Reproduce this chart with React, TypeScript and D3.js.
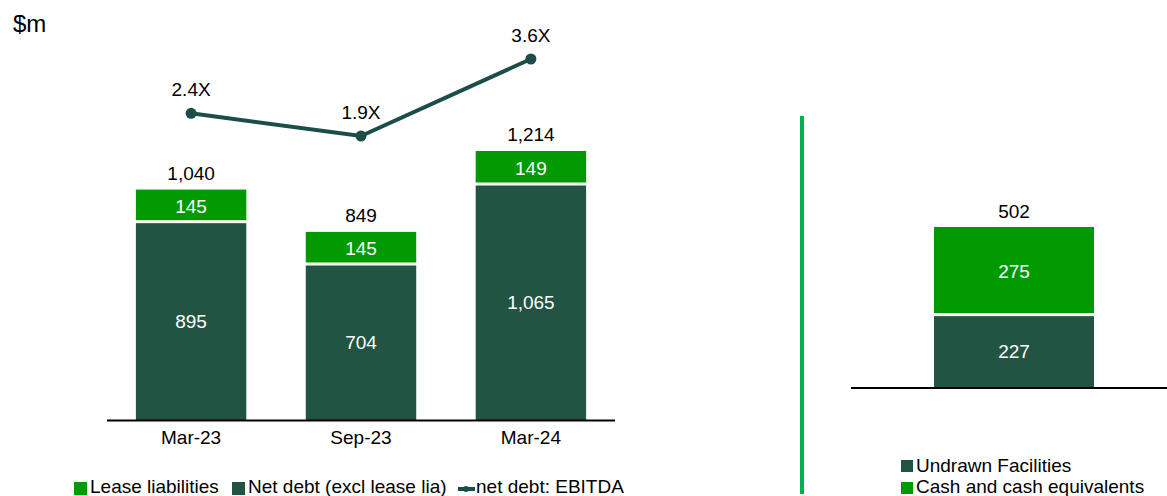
import React from "react";
import * as d3 from "d3";

const periods = ["Mar-23", "Sep-23", "Mar-24"];
const netDebt = [895, 704, 1065];
const leaseLiab = [145, 145, 149];
const totals = [1040, 849, 1214];
const ratio = [2.4, 1.9, 3.6];

const liqCategory = ["Liquidity"];
const undrawn = [227];
const cash = [275];
const liqTotal = [502];

const DARK = "#215442";
const GREEN = "#009900";
const LINE = "#1b4d49";
const FONT = "'Liberation Sans', Arial, sans-serif";
const FS = 19;

const App = () => {
  const x = d3.scaleBand().domain(periods).range([107, 615]).paddingInner(0.35).paddingOuter(0.17);
  const y = d3.scaleLinear().domain([0, 1214]).range([420, 151]);
  const yr = d3.scaleLinear().domain([1.9, 3.6]).range([136, 59]);

  const x2 = d3.scaleBand().domain(liqCategory).range([934, 1094]).padding(0);
  const y2 = d3.scaleLinear().domain([0, 502]).range([387, 227]);

  const line = d3
    .line<number>()
    .x((d, i) => (x(periods[i]) as number) + x.bandwidth() / 2)
    .y(d => yr(d));

  return (
    <svg width={1167} height={496} style={{ position: "absolute", left: 0, top: 0, fontFamily: FONT }}>
      <text x={13} y={32} fontSize={24} fill="#000">$m</text>

      {periods.map((p, i) => {
        const bx = x(p) as number;
        const w = x.bandwidth();
        const cx = bx + w / 2;
        const yTop = y(netDebt[i] + leaseLiab[i]);
        const yMid = y(netDebt[i]);
        return (
          <g key={p}>
            <rect x={bx} y={yMid + 1.5} width={w} height={y(0) - yMid - 1.5} fill={DARK} />
            <rect x={bx} y={yTop} width={w} height={yMid - yTop - 1.5} fill={GREEN} />
            <text x={cx} y={(yMid + y(0)) / 2 + 7} textAnchor="middle" fontSize={FS} fill="#fff">
              {d3.format(",")(netDebt[i])}
            </text>
            <text x={cx} y={(yTop + yMid) / 2 + 7} textAnchor="middle" fontSize={FS} fill="#fff">
              {leaseLiab[i]}
            </text>
            <text x={cx} y={yTop - 10} textAnchor="middle" fontSize={FS} fill="#000">
              {d3.format(",")(totals[i])}
            </text>
            <text x={cx} y={444} textAnchor="middle" fontSize={FS} fill="#000">{p}</text>
          </g>
        );
      })}
      <line x1={107} x2={615} y1={420.5} y2={420.5} stroke="#000" strokeWidth={2} />

      <path d={line(ratio) || ""} fill="none" stroke={LINE} strokeWidth={4} />
      {ratio.map((r, i) => {
        const cx = (x(periods[i]) as number) + x.bandwidth() / 2;
        return (
          <g key={i}>
            <circle cx={cx} cy={yr(r)} r={5.5} fill={LINE} />
            <text x={cx} y={yr(r) - 17} textAnchor="middle" fontSize={FS} fill="#000">
              {r.toFixed(1)}X
            </text>
          </g>
        );
      })}

      <g fontSize={FS} fill="#000">
        <rect x={74} y={482} width={13} height={13} fill={GREEN} />
        <text x={90} y={493}>Lease liabilities</text>
        <rect x={232} y={482} width={13} height={13} fill={DARK} />
        <text x={248} y={493}>Net debt (excl lease lia)</text>
        <line x1={458} x2={475} y1={489} y2={489} stroke={LINE} strokeWidth={4} />
        <circle cx={466} cy={489} r={3} fill={LINE} />
        <text x={476} y={493}>net debt: EBITDA</text>
      </g>

      <line x1={802} x2={802} y1={116} y2={494} stroke="#00b050" strokeWidth={4} />

      {liqCategory.map((c, i) => {
        const bx = x2(c) as number;
        const w = x2.bandwidth();
        const cx = bx + w / 2;
        const yMid = y2(undrawn[i]);
        const yTop = y2(undrawn[i] + cash[i]);
        return (
          <g key={c}>
            <rect x={bx} y={yMid + 1.5} width={w} height={y2(0) - yMid - 1.5} fill={DARK} />
            <rect x={bx} y={yTop} width={w} height={yMid - yTop - 1.5} fill={GREEN} />
            <text x={cx} y={(yMid + y2(0)) / 2 + 7} textAnchor="middle" fontSize={FS} fill="#fff">{undrawn[i]}</text>
            <text x={cx} y={(yTop + yMid) / 2 + 7} textAnchor="middle" fontSize={FS} fill="#fff">{cash[i]}</text>
            <text x={cx} y={yTop - 9} textAnchor="middle" fontSize={FS} fill="#000">{liqTotal[i]}</text>
          </g>
        );
      })}
      <line x1={851} x2={1167} y1={388} y2={388} stroke="#000" strokeWidth={2} />

      <g fontSize={FS} fill="#000">
        <rect x={901} y={460} width={12} height={12} fill={DARK} />
        <text x={916} y={472}>Undrawn Facilities</text>
        <rect x={901} y={482} width={12} height={12} fill={GREEN} />
        <text x={916} y={493}>Cash and cash equivalents</text>
      </g>
    </svg>
  );
};

export default App;
